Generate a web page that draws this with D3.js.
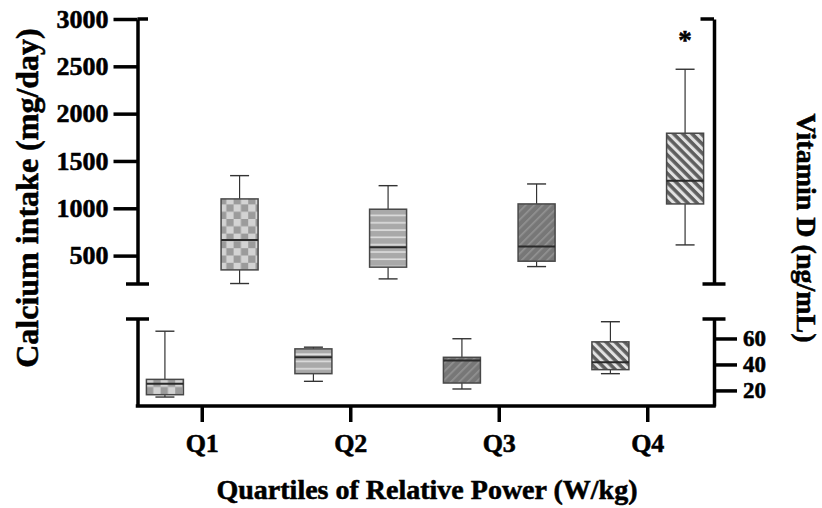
<!DOCTYPE html>
<html>
<head>
<meta charset="utf-8">
<script src="https://cdn.jsdelivr.net/npm/d3@7"></script>
<style>
  html, body { margin: 0; padding: 0; background: #fff; }
  text { font-family: "Liberation Serif", "Times New Roman", serif; font-weight: bold; fill: #000; stroke: #000; stroke-width: 0.55px; }
</style>
</head>
<body>
<svg id="chart" width="822" height="508"></svg>
<script>
// ---- data ----
const quartiles = ["Q1", "Q2", "Q3", "Q4"];
const calciumMin = [205, 254, 384, 613];
const calciumQ1  = [349, 378, 441, 1046];
const calciumMed = [666, 589, 595, 1292];
const calciumQ3  = [1099, 990, 1046, 1793];
const calciumMax = [1345, 1239, 1257, 2469];
const vitDMin = [14.9, 27.0, 21.1, 32.9];
const vitDQ1  = [16.7, 32.9, 25.7, 36.0];
const vitDMed = [25.2, 45.5, 43.0, 41.7];
const vitDQ3  = [28.5, 52.0, 45.5, 57.4];
const vitDMax = [65.6, 53.3, 59.8, 72.9];
const significance = ["", "", "", "*"];
const calciumTicks = [500, 1000, 1500, 2000, 2500, 3000];
const vitDTicks = [20, 40, 60];
const patternIds = ["pCheck", "pHoriz", "pDiagA", "pDiagB"];

// ---- layout ----
const svg = d3.select("#chart");
const leftX = 137.5, rightX = 714, baseY = 406;
const x = d3.scaleBand().domain(quartiles).range([128, 722]).padding(0);
const sub = d3.scaleBand().domain(["vitD", "ca"]).range([-56, 56]).paddingInner(0.5).paddingOuter(0);
const boxW = 37;
const yCa = d3.scaleLinear().domain([200, 3000]).range([284, 19]);
const yVD = d3.scaleLinear().domain([8, 75]).range([baseY, 319]);

// ---- patterns ----
const defs = svg.append("defs");
const pc = defs.append("pattern").attr("id", "pCheck").attr("patternUnits", "userSpaceOnUse")
  .attr("width", 14.6).attr("height", 14.6);
pc.append("rect").attr("width", 14.6).attr("height", 14.6).attr("fill", "#d3d3d3");
pc.append("rect").attr("x", 7.3).attr("y", 0).attr("width", 7.3).attr("height", 7.3).attr("fill", "#9b9b9b");
pc.append("rect").attr("x", 0).attr("y", 7.3).attr("width", 7.3).attr("height", 7.3).attr("fill", "#9b9b9b");

const ph = defs.append("pattern").attr("id", "pHoriz").attr("patternUnits", "userSpaceOnUse")
  .attr("width", 10).attr("height", 7.3);
ph.append("rect").attr("width", 10).attr("height", 7.3).attr("fill", "#a9a9a9");
ph.append("rect").attr("y", 3).attr("width", 10).attr("height", 1.6).attr("fill", "#dedede");

const pa = defs.append("pattern").attr("id", "pDiagA").attr("patternUnits", "userSpaceOnUse")
  .attr("width", 6).attr("height", 6).attr("patternTransform", "rotate(45)");
pa.append("rect").attr("width", 6).attr("height", 6).attr("fill", "#777");
pa.append("rect").attr("x", 0).attr("width", 1.6).attr("height", 6).attr("fill", "#939393");

const pb = defs.append("pattern").attr("id", "pDiagB").attr("patternUnits", "userSpaceOnUse")
  .attr("width", 6.5).attr("height", 6.5).attr("patternTransform", "rotate(-45)");
pb.append("rect").attr("width", 6.5).attr("height", 6.5).attr("fill", "#5e5e5e");
pb.append("rect").attr("x", 0).attr("width", 3).attr("height", 6.5).attr("fill", "#e2e2e2");

// ---- box drawing ----
function drawBoxes(cls, y, mins, q1s, meds, q3s, maxs, key) {
  const data = quartiles.map((q, i) => ({q, i, min: mins[i], q1: q1s[i], med: meds[i], q3: q3s[i], max: maxs[i]}));
  const g = svg.append("g").attr("class", cls);
  const cx = d => x(d.q) + x.bandwidth() / 2 + sub(key) + sub.bandwidth() / 2;
  const cap = 9.5;
  g.selectAll(".whisker").data(data).join("line")
    .attr("x1", cx).attr("x2", cx).attr("y1", d => y(d.min)).attr("y2", d => y(d.max))
    .attr("stroke", "#333").attr("stroke-width", 1.2);
  g.selectAll(".capTop").data(data).join("line")
    .attr("x1", d => cx(d) - cap).attr("x2", d => cx(d) + cap)
    .attr("y1", d => y(d.max)).attr("y2", d => y(d.max))
    .attr("stroke", "#333").attr("stroke-width", 1.4);
  g.selectAll(".capBot").data(data).join("line")
    .attr("x1", d => cx(d) - cap).attr("x2", d => cx(d) + cap)
    .attr("y1", d => y(d.min)).attr("y2", d => y(d.min))
    .attr("stroke", "#333").attr("stroke-width", 1.4);
  g.selectAll(".box").data(data).join("rect")
    .attr("x", d => cx(d) - boxW / 2).attr("width", boxW)
    .attr("y", d => y(d.q3)).attr("height", d => y(d.q1) - y(d.q3))
    .attr("fill", d => `url(#${patternIds[d.i]})`)
    .attr("stroke", "#484848").attr("stroke-width", 1.5);
  g.selectAll(".median").data(data).join("line")
    .attr("x1", d => cx(d) - boxW / 2).attr("x2", d => cx(d) + boxW / 2)
    .attr("y1", d => y(d.med)).attr("y2", d => y(d.med))
    .attr("stroke", "#2a2a2a").attr("stroke-width", 2);
  return {data, cx};
}

const ca = drawBoxes("calcium", yCa, calciumMin, calciumQ1, calciumMed, calciumQ3, calciumMax, "ca");
drawBoxes("vitD", yVD, vitDMin, vitDQ1, vitDMed, vitDQ3, vitDMax, "vitD");

// significance marks
svg.append("g").selectAll("text").data(ca.data.filter(d => significance[d.i])).join("text")
  .attr("x", ca.cx).attr("y", d => yCa(d.max) - 20)
  .attr("text-anchor", "middle").attr("font-size", 27)
  .text(d => significance[d.i]);

// ---- axes ----
const axisW = 3.5, capLen = 11.5;
function styleAxis(g, fs) {
  g.selectAll("path.domain").attr("stroke", "#000").attr("stroke-width", axisW);
  g.selectAll(".tick line").attr("stroke", "#000").attr("stroke-width", axisW);
  g.selectAll(".tick text").attr("font-size", fs || 26).attr("font-family", "Liberation Serif").attr("font-weight", "bold");
}
// left top (calcium)
const gL = svg.append("g").attr("transform", `translate(${leftX},0)`)
  .call(d3.axisLeft(yCa).tickValues(calciumTicks).tickSize(24).tickSizeOuter(0).tickPadding(5).tickFormat(d3.format("d")));
styleAxis(gL, 26);
// right top (no ticks)
const gR = svg.append("g").attr("transform", `translate(${rightX},0)`)
  .call(d3.axisRight(yCa).tickValues([]).tickSizeOuter(0));
styleAxis(gR);
// left bottom (no ticks)
const gLB = svg.append("g").attr("transform", `translate(${leftX},0)`)
  .call(d3.axisLeft(yVD).tickValues([]).tickSizeOuter(0));
styleAxis(gLB);
// right bottom (vitamin D)
const gRB = svg.append("g").attr("transform", `translate(${rightX},0)`)
  .call(d3.axisRight(yVD).tickValues(vitDTicks).tickSize(23).tickSizeOuter(0).tickPadding(6));
styleAxis(gRB, 23);
// x axis
const gX = svg.append("g").attr("transform", `translate(0,${baseY})`)
  .call(d3.axisBottom(x).tickSize(16).tickSizeOuter(0).tickPadding(12));
styleAxis(gX, 26);
gX.select("path.domain").remove();
svg.append("line").attr("x1", leftX - axisW / 2).attr("x2", rightX + axisW / 2)
  .attr("y1", baseY).attr("y2", baseY).attr("stroke", "#000").attr("stroke-width", axisW);

// break caps
const caps = [
  [leftX - capLen, leftX + capLen, yCa.range()[0]],
  [leftX, leftX + capLen - 1, yCa.range()[1]],
  [rightX - capLen - 2, rightX, yCa.range()[1]],
  [rightX - capLen, rightX + capLen, yCa.range()[0]],
  [leftX - capLen, leftX + capLen, yVD.range()[1]],
  [rightX - capLen, rightX + capLen, yVD.range()[1]]
];
svg.append("g").selectAll("line").data(caps).join("line")
  .attr("x1", d => d[0]).attr("x2", d => d[1]).attr("y1", d => d[2]).attr("y2", d => d[2])
  .attr("stroke", "#000").attr("stroke-width", axisW);

// ---- titles ----
svg.append("text").attr("x", 427).attr("y", 499).attr("text-anchor", "middle")
  .attr("font-size", 28).text("Quartiles of Relative Power (W/kg)");
svg.append("text").attr("transform", "translate(38,198) rotate(-90)").attr("text-anchor", "middle")
  .attr("font-size", 32).text("Calcium intake (mg/day)");
svg.append("text").attr("transform", "translate(797,228) rotate(90)").attr("text-anchor", "middle")
  .attr("font-size", 28).text("Vitamin D (ng/mL)");
</script>
</body>
</html>
